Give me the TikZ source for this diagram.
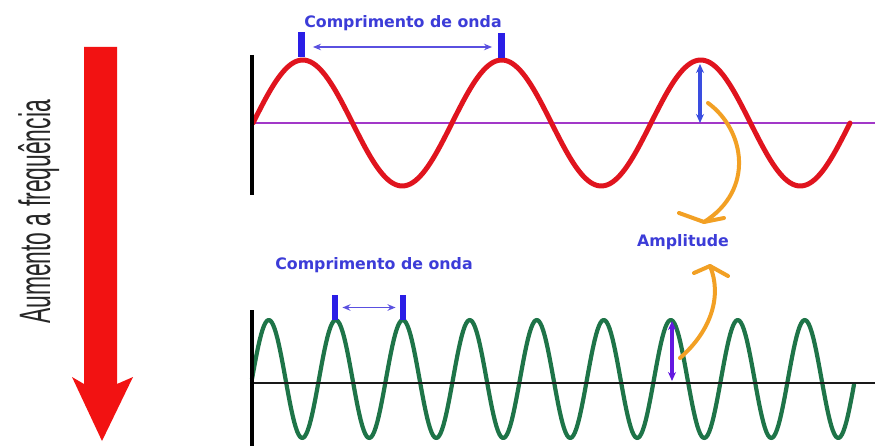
\documentclass[tikz,border=0pt]{standalone}
\usepackage{fontspec}
\setmainfont{Liberation Sans}
\newfontfamily\lblfont{DejaVu Sans}
\usetikzlibrary{arrows.meta}
\definecolor{arrowred}{HTML}{F21212}
\definecolor{wavered}{HTML}{E0141E}
\definecolor{wavegreen}{HTML}{1E7448}
\definecolor{axispurple}{HTML}{A238C8}
\definecolor{lblblue}{HTML}{3C3CD8}
\definecolor{barblue}{HTML}{2A1EE6}
\definecolor{dblblue}{HTML}{5A50E0}
\definecolor{amporange}{HTML}{F2A024}
\definecolor{ampviolet}{HTML}{6418E0}
\definecolor{ampblue}{HTML}{3A4EE0}
\begin{document}
\begin{tikzpicture}[x=1pt,y=-1pt,
  lbl/.style={font=\lblfont\bfseries\fontsize{15.8}{18}\selectfont, text=lblblue, inner sep=0pt},
  barmark/.style={fill=barblue, draw=none, minimum width=6.5pt, minimum height=25pt, inner sep=0pt},
  dbl/.style={dblblue, line width=1.6pt, {Stealth[length=8pt,width=6.5pt]}-{Stealth[length=8pt,width=6.5pt]}},
  axisline/.style={black, line width=3.5pt},
  refline/.style={line width=2.6pt},
  wave/.style={line width=4.2pt, line cap=round, line join=round},
  amparrow/.style={line width=3.2pt, {Stealth[length=9pt,width=8pt]}-{Stealth[length=9pt,width=8pt]}},
  orangearc/.style={amporange, line width=4pt, line cap=round, line join=round}
]
\useasboundingbox (0,0) rectangle (875,446);
\fill[white] (0,0) rectangle (875,446);

% big red arrow and its label
\fill[arrowred] (84,47) -- (117,47) -- (117,384) -- (133,377) -- (102,441) -- (72,377) -- (84,384) -- cycle;
\node[rotate=90, anchor=base, inner sep=0pt, text=black!85] (freq) at (50,212)
  {\scalebox{0.52}[1]{\fontsize{44}{44}\selectfont Aumento a frequência}};

% ---------- top wave ----------
\draw[axispurple, refline] (253,123) -- (875,123);
\draw[wavered, wave, line width=5pt] plot[domain=253:850, samples=240] (\x, {123 - 63*sin((\x-253)*1.809)});
\draw[axisline] (252,55) -- (252,195);

\node[lbl] (lbltop) at (403,23) {Comprimento de onda};
\node[barmark] (t1) at (301.5,45) {};
\node[barmark] (t2) at (501.5,46) {};
\draw[dbl, shorten <=8pt, shorten >=6pt] (t1.east |- 0,47) -- (t2.west |- 0,47);

\coordinate (ta) at (700,64);
\coordinate (tb) at (700,123);
\draw[ampblue, amparrow] (ta) -- (tb);

\coordinate (o1s) at (708,103);
\coordinate (o1e) at (704,222);
\draw[orangearc] (o1s) .. controls (745,130) and (755,190) .. (o1e);
\coordinate (o1l) at (679,213);
\coordinate (o1r) at (724,218);
\draw[orangearc] (o1l) -- (o1e) -- (o1r);

\node[lbl] (amp) at (683,242) {Amplitude};

% ---------- bottom wave ----------
\draw[wavegreen, wave] plot[domain=252:854, samples=400] (\x, {379 - 59*sin((\x-252)*5.3731)});
\draw[black!90, refline] (253,383) -- (875,383);
\draw[axisline] (252,310) -- (252,446);

\node[lbl] (lblbot) at (374,265) {Comprimento de onda};
\node[barmark] (g1) at (335,307.5) {};
\node[barmark] (g2) at (403,307.5) {};
\draw[dbl, shorten <=4pt, shorten >=4pt] (g1) -- (g2);

\coordinate (ga) at (672,321);
\coordinate (gb) at (672,381);
\draw[ampviolet, amparrow] (ga) -- (gb);

\coordinate (o2s) at (680,358);
\coordinate (o2e) at (710,266);
\draw[orangearc] (o2s) .. controls (712,330) and (722,295) .. (o2e);
\coordinate (o2l) at (694,273);
\coordinate (o2r) at (728,276);
\draw[orangearc] (o2l) -- (o2e) -- (o2r);
\end{tikzpicture}
\end{document}
